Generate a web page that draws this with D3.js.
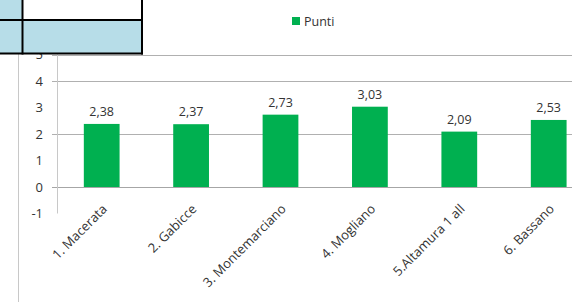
<!DOCTYPE html>
<html>
<head>
<meta charset="utf-8">
<script src="https://cdn.jsdelivr.net/npm/d3@7"></script>
<style>
  body { margin: 0; background: #fff; }
  svg { display: block; }
  text { font-family: "Open Sans", sans-serif; fill: #333; }
</style>
</head>
<body>
<div id="chart"></div>
<script>
const categories = ['1. Macerata', '2. Gabicce', '3. Montemarciano', '4. Mogliano', '5.Altamura 1 all', '6. Bassano'];
const punti = [2.38, 2.37, 2.73, 3.03, 2.09, 2.53];
const yTicks = [-1, 0, 1, 2, 3, 4, 5];
const gridTicks = [0, 2, 4, 5];
const seriesName = 'Punti';

const width = 572;
const height = 302;
const green = '#00b050';

const svg = d3.select('#chart').append('svg')
  .attr('width', width)
  .attr('height', height);

// chart area border (left edge)
svg.append('line')
  .attr('x1', 18.5).attr('x2', 18.5)
  .attr('y1', 53).attr('y2', height)
  .attr('stroke', '#c8c8c8');

const x = d3.scaleBand()
  .domain(categories)
  .range([57, 593.4])
  .paddingInner(0.6)
  .paddingOuter(0.3);

const y = d3.scaleLinear()
  .domain([-1, 5])
  .range([213.5, 54.5]);

// gridlines
svg.append('g')
  .selectAll('line')
  .data(gridTicks)
  .join('line')
  .attr('x1', 52).attr('x2', width)
  .attr('y1', d => Math.round(y(d)) + 0.5)
  .attr('y2', d => Math.round(y(d)) + 0.5)
  .attr('stroke', d => d === 0 ? '#a6a6a6' : '#b0b0b0');

// y axis line
svg.append('line')
  .attr('x1', 57.5).attr('x2', 57.5)
  .attr('y1', y(5)).attr('y2', y(-1))
  .attr('stroke', '#c8c8c8');

// y labels
svg.append('g')
  .selectAll('text')
  .data(yTicks)
  .join('text')
  .attr('x', 43)
  .attr('y', d => y(d))
  .attr('dy', '0.35em')
  .attr('text-anchor', 'end')
  .style('font-size', '13px')
  .text(d => d);

// bars
svg.append('g')
  .selectAll('rect')
  .data(punti)
  .join('rect')
  .attr('x', (d, i) => x(categories[i]))
  .attr('width', x.bandwidth())
  .attr('y', d => y(d))
  .attr('height', d => y(0) - y(d))
  .attr('fill', green);

// value labels
svg.append('g')
  .selectAll('text')
  .data(punti)
  .join('text')
  .attr('x', (d, i) => x(categories[i]) + x.bandwidth() / 2)
  .attr('y', d => y(d) - 8)
  .attr('text-anchor', 'middle')
  .style('font-size', '12.5px')
  .text(d => d.toFixed(2).replace('.', ','));

// category labels
svg.append('g')
  .selectAll('text')
  .data(categories)
  .join('text')
  .attr('transform', d => `translate(${x(d) + x.bandwidth() / 2 - 2},${y(-1) - 12}) rotate(-45)`)
  .attr('text-anchor', 'end')
  .attr('dy', '0.9em')
  .style('font-size', '13px')
  .text(d => d);

// legend
svg.append('rect')
  .attr('x', 292).attr('y', 17)
  .attr('width', 8).attr('height', 8)
  .attr('fill', green);
svg.append('text')
  .attr('x', 304).attr('y', 26)
  .style('font-size', '12.5px')
  .text(seriesName);

// table in top-left corner
const table = svg.append('g');
table.append('rect').attr('x', 0).attr('y', 0).attr('width', 142).attr('height', 54).attr('fill', '#b7dde8');
table.append('rect').attr('x', 23).attr('y', 0).attr('width', 119).attr('height', 20).attr('fill', '#fff');
table.append('line').attr('x1', 0).attr('x2', 143).attr('y1', 20).attr('y2', 20).attr('stroke', '#000').attr('stroke-width', 2);
table.append('line').attr('x1', 0).attr('x2', 143).attr('y1', 53.5).attr('y2', 53.5).attr('stroke', '#000').attr('stroke-width', 2);
table.append('line').attr('x1', 22.5).attr('x2', 22.5).attr('y1', 0).attr('y2', 54.5).attr('stroke', '#000').attr('stroke-width', 2);
table.append('line').attr('x1', 142).attr('x2', 142).attr('y1', 0).attr('y2', 54.5).attr('stroke', '#000').attr('stroke-width', 2);
</script>
</body>
</html>
